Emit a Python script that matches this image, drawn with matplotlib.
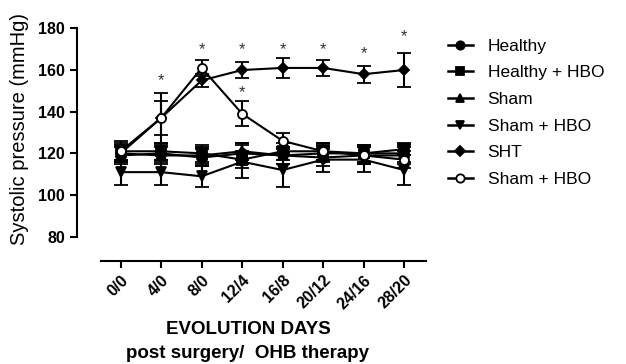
import matplotlib
matplotlib.use("Agg")
import matplotlib.pyplot as plt
from matplotlib.lines import Line2D
import numpy as np

# data
days = ["0/0", "4/0", "8/0", "12/4", "16/8", "20/12", "24/16", "28/20"]

healthy = [119, 120, 118, 120, 119, 118, 119, 119]
healthy_err = [4, 4, 4, 5, 4, 4, 4, 4]
healthy_hbo = [121, 121, 120, 117, 121, 121, 120, 122]
healthy_hbo_err = [4, 4, 4, 4, 4, 4, 4, 3]
sham = [120, 119, 119, 121, 119, 120, 120, 120]
sham_err = [4, 4, 4, 4, 4, 4, 4, 4]
sham_hbo = [111, 111, 109, 116, 112, 117, 117, 112]
sham_hbo_err = [6, 6, 5, 8, 8, 6, 6, 7]
sht = [120, 137, 155, 160, 161, 161, 158, 160]
sht_err = [4, 12, 3, 4, 5, 4, 4, 8]
sham_hbo2 = [121, 137, 161, 139, 126, 121, 119, 117]
sham_hbo2_err = [5, 8, 4, 6, 4, 4, 4, 4]

# asterisks (x index, y value)
star_x = [1, 2, 3, 3, 4, 5, 6, 7]
star_y = [155, 170, 170, 149, 170, 170, 168, 176]

plt.rcParams["font.family"] = ["Liberation Sans", "DejaVu Sans"]

fig = plt.figure(figsize=(6.26, 3.64), dpi=100)
ax = fig.add_axes([76.7 / 626, (364 - 260.7) / 364, (426 - 76.7) / 626, (260.7 - 20) / 364])

x = np.arange(len(days))
series = [
    (healthy, healthy_err, "o", "black", "Healthy"),
    (healthy_hbo, healthy_hbo_err, "s", "black", "Healthy + HBO"),
    (sham, sham_err, "^", "black", "Sham"),
    (sham_hbo, sham_hbo_err, "v", "black", "Sham + HBO"),
    (sht, sht_err, "D", "black", "SHT"),
    (sham_hbo2, sham_hbo2_err, "o", "white", "Sham + HBO"),
]
handles = []
for vals, err, mk, fc, lab in series:
    ms = 5.5 if mk == "D" else 6.5
    ax.errorbar(x, vals, yerr=err, color="black", marker=mk, markersize=ms,
                markerfacecolor=fc, markeredgecolor="black", markeredgewidth=1.3,
                linewidth=1.5, elinewidth=1.5, capsize=5, capthick=1.5)
    handles.append(Line2D([], [], color="black", marker=mk, markersize=ms - 0.5,
                          markerfacecolor=fc, markeredgecolor="black",
                          markeredgewidth=1.3, linewidth=1.8, label=lab))

for sx, sy in zip(star_x, star_y):
    ax.text(sx, sy, "*", ha="center", va="center", fontsize=12, color="#333333")

ax.set_xlim(-1.086, 7.54)
ax.set_ylim(68.5, 184)
ax.spines["top"].set_visible(False)
ax.spines["right"].set_visible(False)
ax.spines["left"].set_bounds(80, 180)
ax.spines["bottom"].set_bounds(-0.49, 7.54)
ax.spines["left"].set_linewidth(1.5)
ax.spines["bottom"].set_linewidth(1.5)
ax.set_yticks([80, 100, 120, 140, 160, 180])
ax.set_xticks(x)
ax.set_xticklabels(days, rotation=45, ha="right", rotation_mode="anchor")
ax.tick_params(width=1.5, length=5)
for t in ax.get_xticklabels() + ax.get_yticklabels():
    t.set_fontweight("bold")
    t.set_fontsize(11.5)

fig.text(20 / 626, 1 - 129 / 364, "Systolic pressure (mmHg)", rotation=90,
         ha="center", va="center", fontsize=14.5)
fig.text(248 / 626, 1 - 330 / 364, "EVOLUTION DAYS", ha="center", va="center",
         fontsize=13.5, fontweight="bold")
fig.text(248 / 626, 1 - 353 / 364, "post surgery/  OHB therapy", ha="center", va="center",
         fontsize=13.5, fontweight="bold")

fig.legend(handles=handles, loc="upper left", bbox_to_anchor=(432 / 626, 1 - 23 / 364),
           frameon=False, fontsize=12.5, handlelength=1.45, labelspacing=0.66,
           handletextpad=0.85)

fig.savefig("out.png", dpi=100)
